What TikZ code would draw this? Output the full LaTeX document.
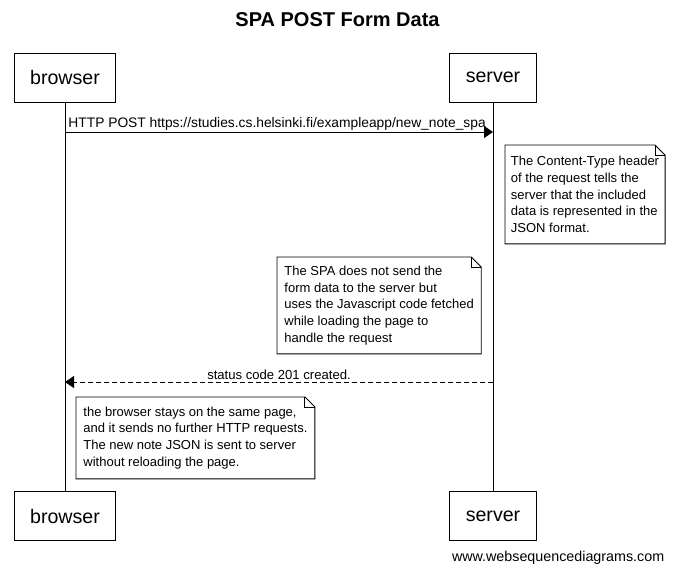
\documentclass[tikz,border=0pt]{standalone}
\usepackage{fontspec}
\setmainfont{Liberation Sans}
\usetikzlibrary{arrows.meta}

% folded corner drawn round a note node
\newcommand{\notefold}[1]{%
  \draw (#1.north west) -- ([xshift=-10pt]#1.north east) -- ([yshift=-10pt]#1.north east)
    -- (#1.south east) -- (#1.south west) -- cycle;
  \draw ([xshift=-10pt]#1.north east) |- ([yshift=-10pt]#1.north east);
}

\tikzset{
  actor/.style={draw, line width=0.9pt, inner xsep=16pt, minimum height=49pt,
    font=\fontsize{19.6}{22}\selectfont},
  note/.style={anchor=north west, align=left, inner xsep=7pt,
    font=\fontsize{13}{16.7}\selectfont},
  msg/.style={font=\fontsize{13.1}{15}\selectfont},
  lifeline/.style={line width=0.9pt},
}

\begin{document}
\begin{tikzpicture}[x=1pt, y=-1pt, >={Triangle[length=9pt, width=12pt]}, line width=0.9pt]
    \useasboundingbox (0,0) rectangle (675,575);
    \node (title) at (337.5,20) {\fontsize{20}{24}\selectfont\bfseries SPA POST Form Data};

    % participants
    \node[actor] (browser) at (65,77.5) {browser};
    \node[actor] (server) at (493,77.5) {server};
    \node[actor] (browserb) at (65,516) {browser};
    \node[actor] (serverb) at (493,516) {server};
    \draw[lifeline] (browser) -- (browserb);
    \draw[lifeline] (server) -- (serverb);

    % messages
    \coordinate (b1) at (65,132);
    \coordinate (s1) at (493,132);
    \draw[->] (b1) -- (s1);
    \node[msg, font=\fontsize{13.8}{15}\selectfont, anchor=south west, inner xsep=3pt, inner ysep=1pt] (post) at (b1)
        {HTTP POST https://studies.cs.helsinki.fi/exampleapp/new\_note\_spa};

    \node[note, inner xsep=5.5pt, minimum height=98pt] (n1) at (505,145)
        {The Content-Type header\\of the request tells the\\server that the included\\data is represented in the\\JSON format.};
    \notefold{n1}

    \node[note, minimum height=96pt] (n2) at (277,257)
        {The SPA does not send the\\form data to the server but\\uses the Javascript code fetched\\while loading the page to\\handle the request};
    \notefold{n2}

    \coordinate (s2) at (493,382);
    \coordinate (b2) at (65,382);
    \draw[->, dash pattern=on 5pt off 3pt] (s2) -- (b2);
    \node[msg, inner sep=2pt, anchor=south] (created) at (279,382) {status code 201 created.};

    \node[note, minimum height=81pt] (n3) at (76,397)
        {the browser stays on the same page,\\and it sends no further HTTP requests.\\The new note JSON is sent to server\\without reloading the page.};
    \notefold{n3}

    \node[msg, font=\fontsize{14.3}{16}\selectfont, anchor=east] (wsd) at (668,558) {www.websequencediagrams.com};
\end{tikzpicture}
\end{document}
